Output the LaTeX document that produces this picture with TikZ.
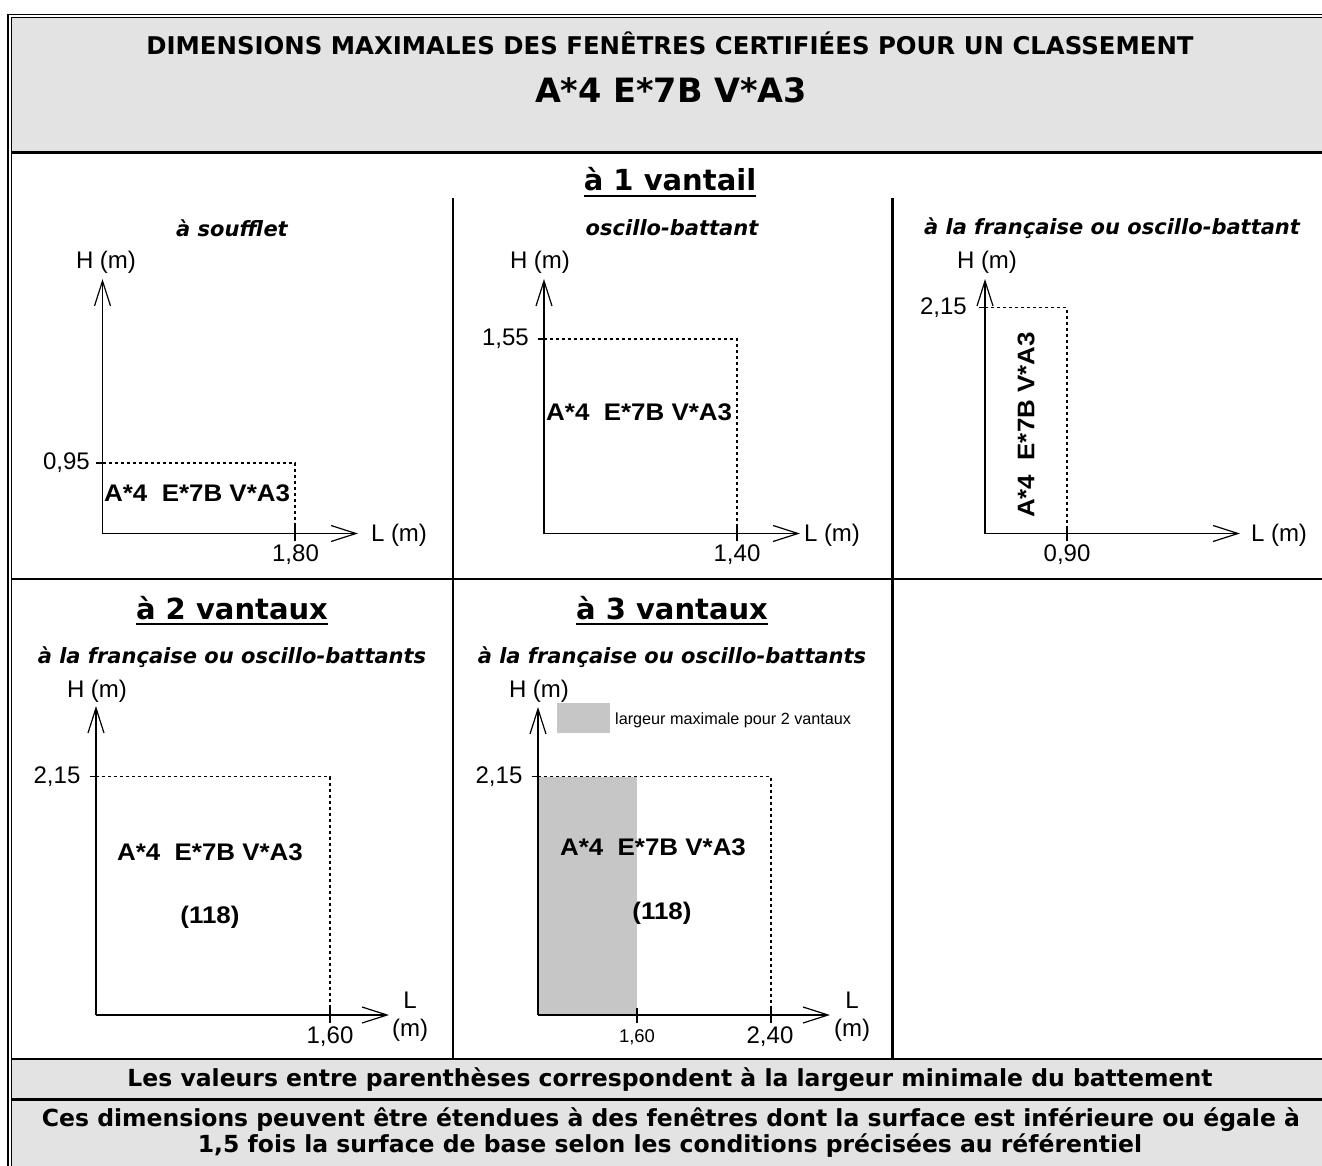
\documentclass[tikz,border=0pt]{standalone}
\usepackage{fontspec}
\setmainfont{DejaVu Sans}
\newfontfamily\arial{Liberation Sans}
\newfontfamily\arialwide[FakeStretch=1.08]{Liberation Sans}
\usetikzlibrary{arrows.meta}
\definecolor{hdrgray}{HTML}{E3E3E3}
\definecolor{shadegray}{HTML}{C6C6C6}
\newcommand\fsz[1]{\fontsize{#1}{#1}\selectfont}
\newcommand\myul[1]{\setbox0\hbox{#1}\rlap{\rule[-6pt]{\wd0}{2.2pt}}\box0}
\begin{document}
\begin{tikzpicture}[x=1pt,y=-1pt,
  ax/.style={line width=1.8pt,-{Straight Barb[length=25pt,width=16pt,line width=1.2pt]}},
  dsh/.style={line width=1.5pt,dash pattern=on 3pt off 3pt},
  tck/.style={line width=1.8pt},
  tabrule/.style={line width=2.2pt},
  lbl/.style={font=\arial\fsz{24},inner sep=0pt},
  smalllbl/.style={font=\arial\fsz{18.5},inner sep=0pt},
  big/.style={font=\arialwide\bfseries\fsz{24},inner sep=0pt},
  sub/.style={font=\bfseries\itshape\fsz{21},inner sep=0pt},
  headtxt/.style={font=\bfseries\fsz{29},inner sep=0pt,anchor=base},
  foot/.style={font=\bfseries\fsz{23.5},inner sep=0pt}]
\useasboundingbox (0,0) rectangle (1322,1166);
\clip (0,0) rectangle (1322,1166);

% ---------- table frame ----------
\fill[hdrgray] (11.5,17.5) rectangle (1330,152.5);
\fill[hdrgray] (11.5,1059) rectangle (1330,1170);
\draw[line width=1.6pt] (8,1170) -- (8,14.5) -- (1330,14.5);
\draw[line width=1.6pt] (11.5,1170) -- (11.5,17.5) -- (1330,17.5);
\draw[tabrule] (11.5,152.5) -- (1330,152.5);
\draw[tabrule] (11.5,579) -- (1330,579);
\draw[tabrule] (11.5,1059) -- (1330,1059);
\draw[tabrule] (11.5,1099.5) -- (1330,1099.5);
\draw[tabrule] (453,198) -- (453,1059);
\draw[tabrule] (892.5,198) -- (892.5,1059);

% ---------- header ----------
\node[font=\bfseries\fsz{24.4},inner sep=0pt] (title1) at (670,43)
  {DIMENSIONS MAXIMALES DES FENÊTRES CERTIFIÉES POUR UN CLASSEMENT};
\node[font=\bfseries\fsz{33.5},inner sep=0pt] (title2) at (671,90) {A*4 E*7B V*A3};

\node[headtxt] (head1) at (670,191) {\myul{à 1 vantail}};
\node[headtxt] (head2) at (232,619) {\myul{à 2 vantaux}};
\node[headtxt] (head3) at (672,619) {\myul{à 3 vantaux}};

\node[sub] (sub1) at (232,228) {à soufflet};
\node[sub] (sub2) at (672,228) {oscillo-battant};
\node[sub] (sub3) at (1112,228) {à la française ou oscillo-battant};
\node[sub] (sub4) at (232,657) {à la française ou oscillo-battants};
\node[sub] (sub5) at (672,657) {à la française ou oscillo-battants};

% ---------- panel 1 : à soufflet ----------
\coordinate (o1) at (102.5,533.5);
\coordinate (y1) at (102.5,279);
\coordinate (x1) at (358,533.5);
\coordinate (c1) at (295,463);
\draw[dsh] (o1 |- c1) -- (c1) -- (c1 |- o1);
\draw[ax] (o1) -- (y1);
\draw[ax] (o1) -- (x1);
\draw[tck] (96,463) -- (102.5,463);
\draw[tck] (295,526) -- (295,541);
\node[lbl] (h1) at (106,262) {H (m)};
\node[lbl] (l1) at (399,535) {L (m)};
\node[lbl,anchor=east] (v1) at (90,463) {0,95};
\node[lbl] (w1) at (295.5,555) {1,80};
\node[big,anchor=west] (t1) at (104,493) {A*4\ \ E*7B V*A3};

% ---------- panel 2 : oscillo-battant ----------
\coordinate (o2) at (544,533.5);
\coordinate (y2) at (544,279);
\coordinate (x2) at (800,533.5);
\coordinate (c2) at (737,339);
\draw[dsh] (o2 |- c2) -- (c2) -- (c2 |- o2);
\draw[ax] (o2) -- (y2);
\draw[ax] (o2) -- (x2);
\draw[tck] (537.5,339) -- (544,339);
\draw[tck] (737,526) -- (737,541);
\node[lbl] (h2) at (540,262) {H (m)};
\node[lbl] (l2) at (832,535) {L (m)};
\node[lbl,anchor=east] (v2) at (529,339) {1,55};
\node[lbl] (w2) at (737,555) {1,40};
\node[big,anchor=west] (t2) at (546,412) {A*4\ \ E*7B V*A3};

% ---------- panel 3 : à la française ou oscillo-battant ----------
\coordinate (o3) at (985,533.5);
\coordinate (y3) at (985,279);
\coordinate (x3) at (1240,533.5);
\coordinate (c3) at (1067,307.5);
\draw[dsh] (o3 |- c3) -- (c3) -- (c3 |- o3);
\draw[ax] (o3) -- (y3);
\draw[ax] (o3) -- (x3);
\draw[tck] (978.5,307.5) -- (985,307.5);
\draw[tck] (1067,526) -- (1067,541);
\node[lbl] (h3) at (987,262) {H (m)};
\node[lbl] (l3) at (1279,535) {L (m)};
\node[lbl,anchor=east] (v3) at (967,308) {2,15};
\node[lbl] (w3) at (1067,555) {0,90};
\node[big,rotate=90] (t3) at (1026,425) {A*4\ \ E*7B V*A3};

% ---------- panel 4 : à 2 vantaux ----------
\coordinate (o4) at (96,1015);
\coordinate (y4) at (96,706);
\coordinate (x4) at (389,1015);
\coordinate (c4) at (330,776.5);
\draw[dsh] (o4 |- c4) -- (c4) -- (c4 |- o4);
\draw[ax] (o4) -- (y4);
\draw[ax] (o4) -- (x4);
\draw[tck] (89.5,776.5) -- (96,776.5);
\draw[tck] (330,1008) -- (330,1023);
\node[lbl] (h4) at (97,691) {H (m)};
\node[lbl] (l4) at (410,1000) {L};
\node[lbl] (m4) at (410,1030) {(m)};
\node[lbl] (v4) at (57,777) {2,15};
\node[lbl] (w4) at (330,1037) {1,60};
\node[big] (t4) at (210,852) {A*4\ \ E*7B V*A3};
\node[big] (n4) at (210,917) {(118)};

% ---------- panel 5 : à 3 vantaux ----------
\coordinate (o5) at (538,1015);
\coordinate (y5) at (538,707);
\coordinate (x5) at (830,1015);
\coordinate (c5) at (771,776.5);
\coordinate (s5) at (637,776.5);
\fill[shadegray] (o5 |- s5) rectangle (s5 |- o5);
\fill[shadegray] (557,703) rectangle (610,733);
\draw[dsh] (o5 |- c5) -- (c5) -- (c5 |- o5);
\draw[ax] (o5) -- (y5);
\draw[ax] (o5) -- (x5);
\draw[tck] (531.5,776.5) -- (538,776.5);
\draw[tck] (637,1008) -- (637,1023);
\draw[tck] (771,1008) -- (771,1023);
\node[font=\arial\fsz{16.2},inner sep=0pt,anchor=west] (leg5) at (615,720) {largeur maximale pour 2 vantaux};
\node[lbl] (h5) at (539,691) {H (m)};
\node[lbl] (l5) at (852,1000) {L};
\node[lbl] (m5) at (852,1030) {(m)};
\node[lbl] (v5) at (499,777) {2,15};
\node[smalllbl] (w5a) at (637,1037) {1,60};
\node[lbl] (w5b) at (770,1037) {2,40};
\node[big] (t5) at (653,847) {A*4\ \ E*7B V*A3};
\node[big] (n5) at (662,913) {(118)};

% ---------- footer ----------
\node[foot] (foot1) at (670,1080) {Les valeurs entre parenthèses correspondent à la largeur minimale du battement};
\node[foot] (foot2) at (671,1120) {Ces dimensions peuvent être étendues à des fenêtres dont la surface est inférieure ou égale à};
\node[foot] (foot3) at (670,1146) {1,5 fois la surface de base selon les conditions précisées au référentiel};
\end{tikzpicture}
\end{document}
